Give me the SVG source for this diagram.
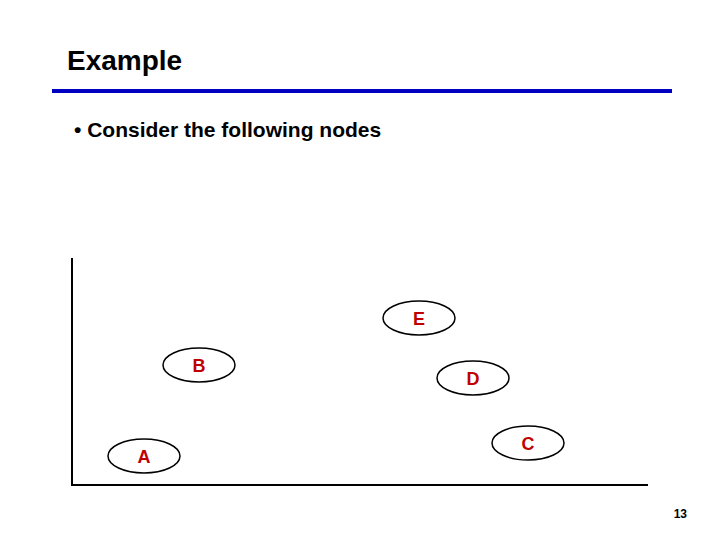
<svg xmlns="http://www.w3.org/2000/svg" width="720" height="540" viewBox="0 0 720 540">
<style>
.n{fill:#fff;stroke:#000;stroke-width:1.5}
.l{fill:#c00000;font-family:"Liberation Sans",Arial,sans-serif;font-size:18px;font-weight:bold;text-anchor:middle}
.t{font-family:"Liberation Sans",Arial,sans-serif;fill:#000;font-weight:bold}
</style>
<rect width="720" height="540" fill="#fff"/>
<text class="t" x="67" y="70" font-size="28">Example</text>
<rect x="52" y="89" width="620" height="4" fill="#0000c0"/>
<text class="t" x="74" y="137" font-size="21">• Consider the following nodes</text>
<g id="connectors">
<path d="M72,258 V485 H648" fill="none" stroke="#000" stroke-width="2"/>
</g>
<g id="E"><ellipse class="n" cx="419" cy="318" rx="36" ry="17"/><text class="l" x="419" y="325">E</text></g>
<g id="B"><ellipse class="n" cx="199" cy="365" rx="36" ry="17"/><text class="l" x="199" y="372">B</text></g>
<g id="D"><ellipse class="n" cx="473" cy="378" rx="36" ry="17"/><text class="l" x="473" y="385">D</text></g>
<g id="A"><ellipse class="n" cx="144" cy="456" rx="36" ry="17"/><text class="l" x="144" y="463">A</text></g>
<g id="C"><ellipse class="n" cx="528" cy="443" rx="36" ry="17"/><text class="l" x="528" y="450">C</text></g>
<text class="t" x="687" y="518" font-size="12" text-anchor="end" font-weight="normal">13</text>
</svg>
